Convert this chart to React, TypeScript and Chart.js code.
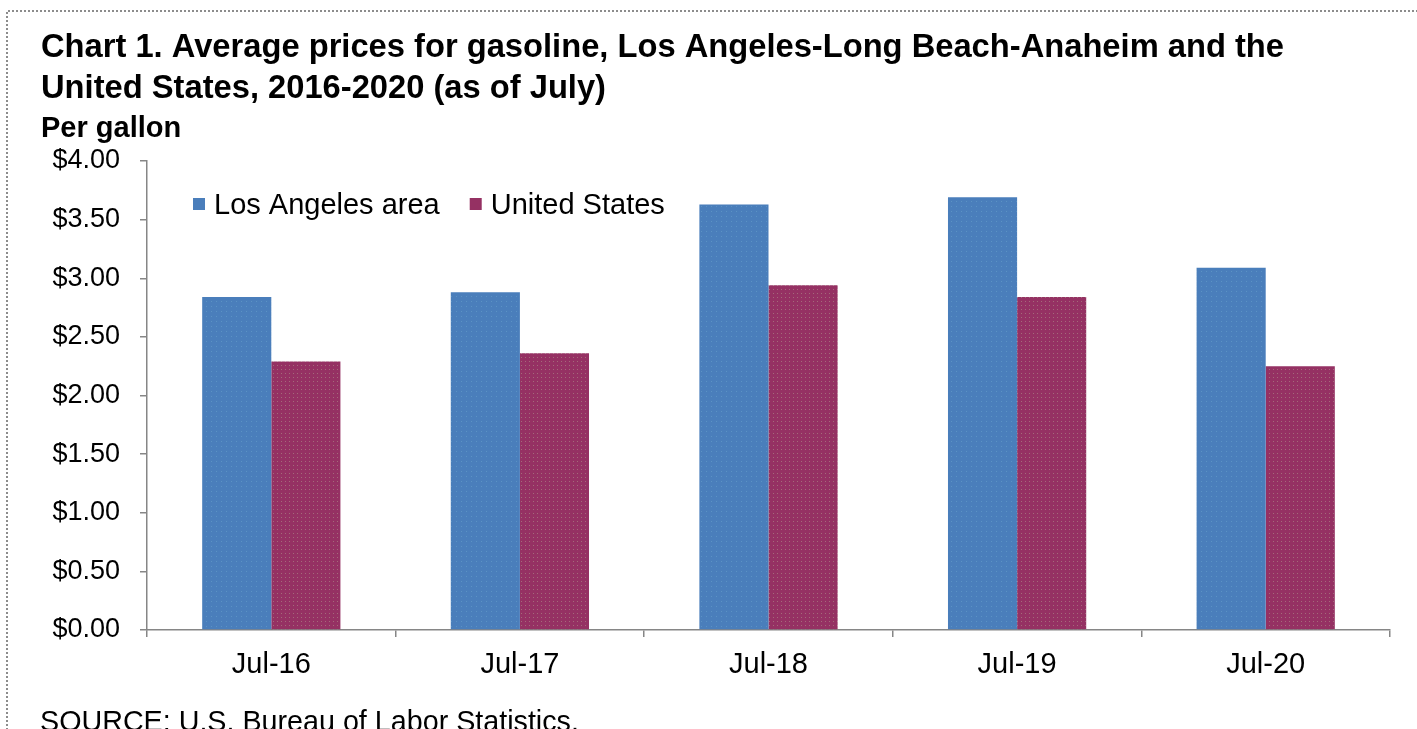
import React, { useEffect, useRef } from "react";
import { Chart, registerables } from "chart.js";

Chart.register(...registerables);

const categories = ["Jul-16", "Jul-17", "Jul-18", "Jul-19", "Jul-20"];
const losAngelesArea = [2.84, 2.88, 3.63, 3.69, 3.09];
const unitedStates = [2.29, 2.36, 2.94, 2.84, 2.25];
const seriesNames = ["Los Angeles area", "United States"];
const titleLines = [
  "Chart 1. Average prices for gasoline, Los Angeles-Long Beach-Anaheim and the",
  "United States, 2016-2020 (as of July)",
];
const unitLabel = "Per gallon";
const sourceText = "SOURCE: U.S. Bureau of Labor Statistics.";

const FONT = "'Liberation Sans', Arial, Helvetica, sans-serif";
const BLUE = "#4a7ebb";
const PURPLE = "#953163";
const AXIS = "#868686";

function makePattern(base: string, dot: string, step: number) {
  const c = document.createElement("canvas");
  c.width = step;
  c.height = step;
  const g = c.getContext("2d")!;
  g.fillStyle = base;
  g.fillRect(0, 0, step, step);
  g.fillStyle = dot;
  g.fillRect(1, 1, 1, 1);
  return g.createPattern(c, "repeat")!;
}

const decorPlugin = {
  id: "decor",
  beforeDraw(chart: any) {
    const ctx = chart.ctx;
    ctx.save();
    ctx.fillStyle = "#ffffff";
    ctx.fillRect(0, 0, chart.width, chart.height);
    ctx.strokeStyle = "#8c8c8c";
    ctx.lineWidth = 2;
    ctx.setLineDash([2, 2]);
    ctx.beginPath();
    ctx.moveTo(7, chart.height + 5);
    ctx.lineTo(7, 11);
    ctx.lineTo(chart.width + 5, 11);
    ctx.stroke();
    ctx.restore();
  },
  afterDraw(chart: any) {
    const ctx = chart.ctx;
    ctx.save();
    ctx.fillStyle = "#000";
    ctx.textAlign = "left";
    ctx.textBaseline = "alphabetic";
    ctx.font = `bold 32.7px ${FONT}`;
    ctx.fillText(titleLines[0], 41, 57);
    ctx.fillText(titleLines[1], 41, 98);
    ctx.font = `bold 29px ${FONT}`;
    ctx.fillText(unitLabel, 41, 137);
    ctx.font = `28.7px ${FONT}`;
    ctx.fillText(sourceText, 40, 731);

    // legend
    ctx.font = `29px ${FONT}`;
    const ds = chart.data.datasets;
    let x = 193;
    const cy = 204;
    ds.forEach((d: any, i: number) => {
      ctx.fillStyle = i === 0 ? BLUE : PURPLE;
      ctx.fillRect(x, cy - 6, 12, 12);
      ctx.fillStyle = "#000";
      ctx.fillText(d.label, x + 21, cy + 10);
      x += 21 + ctx.measureText(d.label).width + 30;
    });
    ctx.restore();
  },
};

export default function App() {
  const ref = useRef<HTMLCanvasElement>(null);
  useEffect(() => {
    if (!ref.current) return;
    const bluePat = makePattern(BLUE, "#5b93c4", 5);
    const purplePat = makePattern(PURPLE, "#a46a7a", 4);
    const chart = new Chart(ref.current, {
      type: "bar",
      data: {
        labels: categories,
        datasets: [
          {
            label: seriesNames[0],
            data: losAngelesArea,
            backgroundColor: bluePat as any,
            borderWidth: 0,
            categoryPercentage: 0.556,
            barPercentage: 1,
          },
          {
            label: seriesNames[1],
            data: unitedStates,
            backgroundColor: purplePat as any,
            borderWidth: 0,
            categoryPercentage: 0.556,
            barPercentage: 1,
          },
        ],
      },
      options: {
        animation: false,
        responsive: false,
        events: [],
        layout: { padding: { top: 161, right: 27, bottom: 0, left: 0 } },
        plugins: {
          legend: { display: false },
          title: { display: false },
          tooltip: { enabled: false },
        },
        scales: {
          x: {
            afterFit: (s: any) => {
              s.height = 99;
            },
            border: { display: true, color: AXIS, width: 1.5 },
            grid: {
              display: true,
              drawOnChartArea: false,
              drawTicks: true,
              tickLength: 7,
              color: AXIS,
              lineWidth: 1.5,
              offset: true,
            },
            ticks: {
              color: "#000",
              font: { family: FONT, size: 29 },
              padding: 11,
              maxRotation: 0,
            },
          },
          y: {
            min: 0,
            max: 4,
            afterFit: (s: any) => {
              s.width = 147;
            },
            border: { display: true, color: AXIS, width: 1.5 },
            grid: {
              display: true,
              drawOnChartArea: false,
              drawTicks: true,
              tickLength: 7,
              color: AXIS,
              lineWidth: 1.5,
            },
            ticks: {
              stepSize: 0.5,
              color: "#000",
              font: { family: FONT, size: 27 },
              padding: 20,
              callback: (v: any) => "$" + Number(v).toFixed(2),
            },
          },
        },
      },
      plugins: [decorPlugin],
    });
    return () => chart.destroy();
  }, []);
  return (
    <div style={{ position: "absolute", left: 0, top: 0, width: 1417, height: 729, overflow: "hidden" }}>
      <canvas ref={ref} width={1417} height={729} style={{ display: "block" }} />
    </div>
  );
}
